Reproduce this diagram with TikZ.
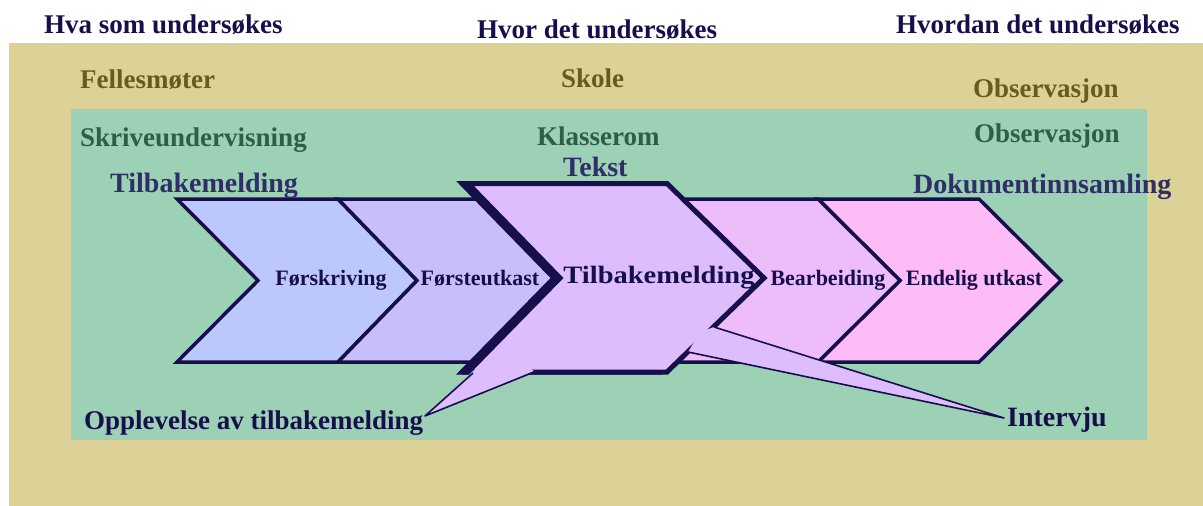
\documentclass[tikz,border=0pt]{standalone}
\usepackage{fontspec}
\setmainfont{Liberation Serif}
\definecolor{bgTan}{HTML}{DCD298}
\definecolor{bgGreen}{HTML}{9CD1B6}
\definecolor{cNavy}{HTML}{170F4B}
\definecolor{cOlive}{HTML}{6B5A20}
\definecolor{cDkGreen}{HTML}{2E5E48}
\definecolor{cSlate}{HTML}{2F2E67}
\definecolor{fA}{HTML}{BCC8FB}
\definecolor{fB}{HTML}{C8BEFA}
\definecolor{fC}{HTML}{DDBDFB}
\definecolor{fD}{HTML}{EDBCFB}
\definecolor{fE}{HTML}{FDBCF8}
\tikzset{
  txt/.style={inner sep=0pt, anchor=base west, font=\fontsize{27}{32}\selectfont\bfseries},
  txtb/.style={inner sep=0pt, anchor=base west, font=\fontsize{28}{33}\selectfont\bfseries},
  ctxt/.style={inner sep=0pt, anchor=base, text=cNavy, font=\fontsize{22}{26}\selectfont\bfseries},
  chev/.style={draw=cNavy, line width=3.5pt, line join=miter, miter limit=10},
  thinline/.style={draw=cNavy, line width=1.6pt, line join=round},
}
\begin{document}
\begin{tikzpicture}[x=1pt,y=-1pt]
\useasboundingbox (0,0) rectangle (1203,506);
\fill[white] (0,0) rectangle (1203,506);
\fill[bgTan] (9,43) rectangle (1203,506);
\fill[bgGreen] (71,109) rectangle (1147,440);

% chevrons
\draw[chev,fill=fA] (177,199) -- (338,199) -- (417,280.5) -- (338,362) -- (177,362) -- (258,280.5) -- cycle;
\draw[chev,fill=fB] (338,199) -- (499,199) -- (578,280.5) -- (499,362) -- (338,362) -- (417,280.5) -- cycle;
\draw[chev,fill=fE] (818,199) -- (979,199) -- (1061,280.5) -- (979,362) -- (818,362) -- (900,280.5) -- cycle;
\draw[chev,fill=fD] (657,199) -- (818,199) -- (900,280.5) -- (818,362) -- (657,362) -- (738,280.5) -- cycle;

% callout shadow and body
\draw[chev, line width=5pt, fill=cNavy] (462,183.5) -- (661,183.5) -- (758,278) -- (661,372) -- (462,372) -- (554,278) -- cycle;
\draw[chev, line width=5pt, fill=fC] (468,183.5) -- (667,183.5) -- (764,278) -- (667,372) -- (468,372) -- (560,278) -- cycle;

% pointer tips
\node[txt, text=cNavy] (opp) at (84,429) {Opplevelse av tilbakemelding};
\node[txtb, text=cNavy] (int) at (1007,426) {Intervju};
\coordinate (oppTip) at (425,416);
\coordinate (intTip) at (1004,418);

% pointer to Intervju
\fill[fC] (714,327) -- (intTip) -- (688,352) -- (700,332) -- cycle;
\draw[thinline] (714,327) -- (intTip) -- (688,352);
% pointer to Opplevelse
\fill[fC] (473,371) -- (oppTip) -- (534,371) -- (520,362) -- (485,362) -- cycle;
\draw[thinline] (473,373) -- (oppTip) -- (534,372);

% chevron labels
\node[ctxt] (c1) at (331,285) {Førskriving};
\node[ctxt] (c2) at (480,285) {Førsteutkast};
\node[ctxt, font=\fontsize{25}{30}\selectfont\bfseries] (c3) at (659,283) {\scalebox{1.14}[1]{Tilbakemelding}};
\node[ctxt] (c4) at (828,285) {Bearbeiding};
\node[ctxt] (c5) at (974,285) {Endelig utkast};

% headings
\node[txt, text=cNavy] (hva) at (44,34) {Hva som undersøkes};
\node[txt, text=cNavy] (hvor) at (477,38) {Hvor det undersøkes};
\node[txt, text=cNavy] (hvordan) at (896,34) {Hvordan det undersøkes};
\node[txt, text=cOlive] (felles) at (80,88) {Fellesmøter};
\node[txt, text=cOlive] (skole) at (561,87) {Skole};
\node[txt, text=cOlive] (obs1) at (973,97) {Observasjon};
\node[txt, text=cDkGreen] (skrive) at (80,146) {Skriveundervisning};
\node[txt, text=cDkGreen] (klasse) at (537,145) {Klasserom};
\node[txt, text=cDkGreen] (obs2) at (974,142) {Observasjon};
\node[txtb, text=cSlate] (tekst) at (563,176) {Tekst};
\node[txtb, text=cSlate] (tilb) at (110,192) {Tilbakemelding};
\node[txtb, text=cSlate] (dok) at (913,193) {Dokumentinnsamling};
\end{tikzpicture}
\end{document}
